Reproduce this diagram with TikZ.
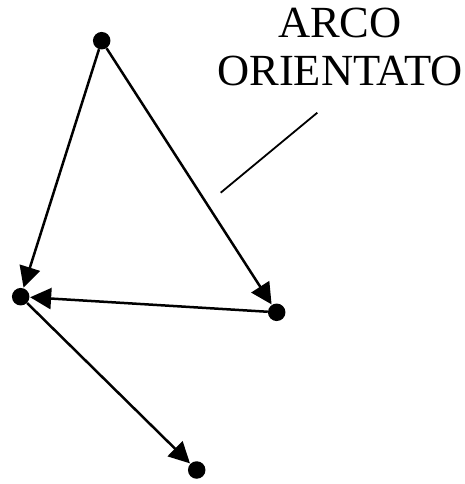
\documentclass[tikz,border=0pt]{standalone}
\usepackage{fontspec}
\setmainfont{Liberation Serif}
\usetikzlibrary{arrows.meta}

\begin{document}
\begin{tikzpicture}[x=1pt, y=-1pt,
    dot/.style={circle, fill=black, inner sep=0pt, minimum size=17.5pt},
    arc/.style={line width=2.5pt, -{Triangle[length=21pt, width=21pt]}, shorten >=0.5pt}]

  \useasboundingbox (0,0) rectangle (465,484);

  % ===== vertici =====
  \node[dot] (vtop)    at (101.7, 40.7) {};
  \node[dot] (vleft)   at (20.7, 296.7) {};
  \node[dot] (vright)  at (276.7, 312.3) {};
  \node[dot] (vbottom) at (196.7, 470) {};

  % ===== archi orientati =====
  \draw[arc] (vtop) -- (vleft);
  \draw[arc] (vtop) -- (vright);
  \draw[arc] (vright) -- (vleft);
  \draw[arc] (vleft) -- (vbottom);

  % ===== etichetta con linea di richiamo =====
  \node[anchor=north, inner sep=0pt, align=center,
        font=\fontsize{44.5}{48.3}\selectfont] (label) at (340, 7.5) {ARCO\\ORIENTATO};
  \coordinate (leadtop) at (317.3, 112.7);
  \coordinate (leadend) at (220.7, 192.7);
  \draw[line width=1.8pt] (leadtop) -- (leadend);

\end{tikzpicture}
\end{document}
